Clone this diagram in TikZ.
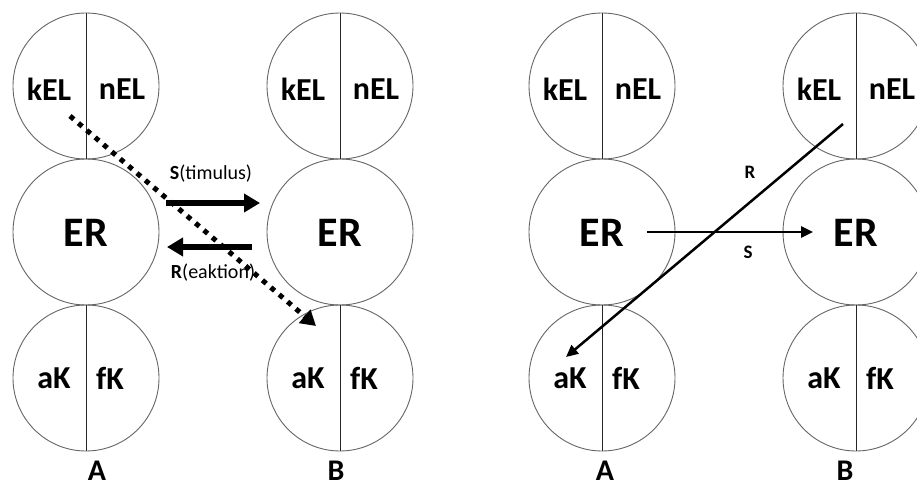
\documentclass[tikz,border=0pt]{standalone}
\usepackage{fontspec}
\setmainfont{Carlito}
\usetikzlibrary{arrows.meta}
\tikzset{
  circ/.style={circle, draw=black!60, line width=0.9pt, minimum size=146pt, inner sep=0pt},
  divider/.style={draw=black!85, line width=0.9pt},
  lab/.style={font=\fontsize{32}{34}\selectfont\bfseries, inner sep=0pt},
  erlab/.style={font=\fontsize{42}{44}\selectfont\bfseries, inner sep=0pt},
  collab/.style={font=\fontsize{30}{32}\selectfont\bfseries, inner sep=0pt},
  arrlab/.style={font=\fontsize{20}{22}\selectfont, inner sep=0pt},
  smalllab/.style={font=\fontsize{19}{20}\selectfont\bfseries, inner sep=0pt},
  thickarrow/.style={line width=6pt, -{Triangle[length=16pt,width=18pt]}},
  thinarrow/.style={line width=2.5pt, -{Triangle[length=12pt,width=11pt]}},
  dotarrow/.style={line width=5pt, dash pattern=on 5pt off 6pt, -{Triangle[length=15pt,width=17pt]}}
}
\begin{document}
\begin{tikzpicture}[x=1pt,y=-1pt]
\useasboundingbox (0,0) rectangle (917,486);
\clip (0,0) rectangle (917,486);
\fill[white] (0,0) rectangle (917,486);
\foreach \n/\x in {a/86,b/340,c/602,d/856} {
  \node[circ] (\n-top) at (\x,86) {};
  \node[circ] (\n-er) at (\x,232) {};
  \node[circ] (\n-bot) at (\x,378) {};
  \draw[divider] (\n-top.north) -- (\n-top.south);
  \draw[divider] (\n-bot.north) -- (\n-bot.south);
  \node[lab] (\n-kel) at (\x-37,89) {kEL};
  \node[lab] (\n-nel) at (\x+36,89) {nEL};
  \node[erlab] (\n-ertext) at (\x,233) {ER};
  \node[lab] (\n-ak) at (\x-32,378) {aK};
  \node[lab] (\n-fk) at (\x+24,378) {fK};
}
\node[collab] (la) at (97,471) {A};
\node[collab] (lb) at (336,471) {B};
\node[collab] (lc) at (605,471) {A};
\node[collab] (ld) at (845,471) {B};
% left group
\coordinate (s1) at (166,203);
\coordinate (s2) at (260,203);
\coordinate (r1) at (252,247);
\coordinate (r2) at (167,247);
\draw[thickarrow] (s1) -- (s2);
\draw[thickarrow] (r1) -- (r2);
\node[arrlab] (stim) at (211,174) {{\bfseries S}(timulus)};
\node[arrlab] (reak) at (213,273) {{\bfseries R}(eaktion)};
\coordinate (d1) at (70,116);
\coordinate (d2) at (316,326);
\draw[dotarrow] (d1) -- (d2);
% right group
\coordinate (s3) at (647,232);
\coordinate (s4) at (813,232);
\coordinate (r3) at (843,124);
\coordinate (r4) at (566,357);
\draw[thinarrow] (s3) -- (s4);
\draw[thinarrow] (r3) -- (r4);
\node[smalllab] (rl) at (750,172) {R};
\node[smalllab] (sl) at (748,252) {S};
\end{tikzpicture}
\end{document}
